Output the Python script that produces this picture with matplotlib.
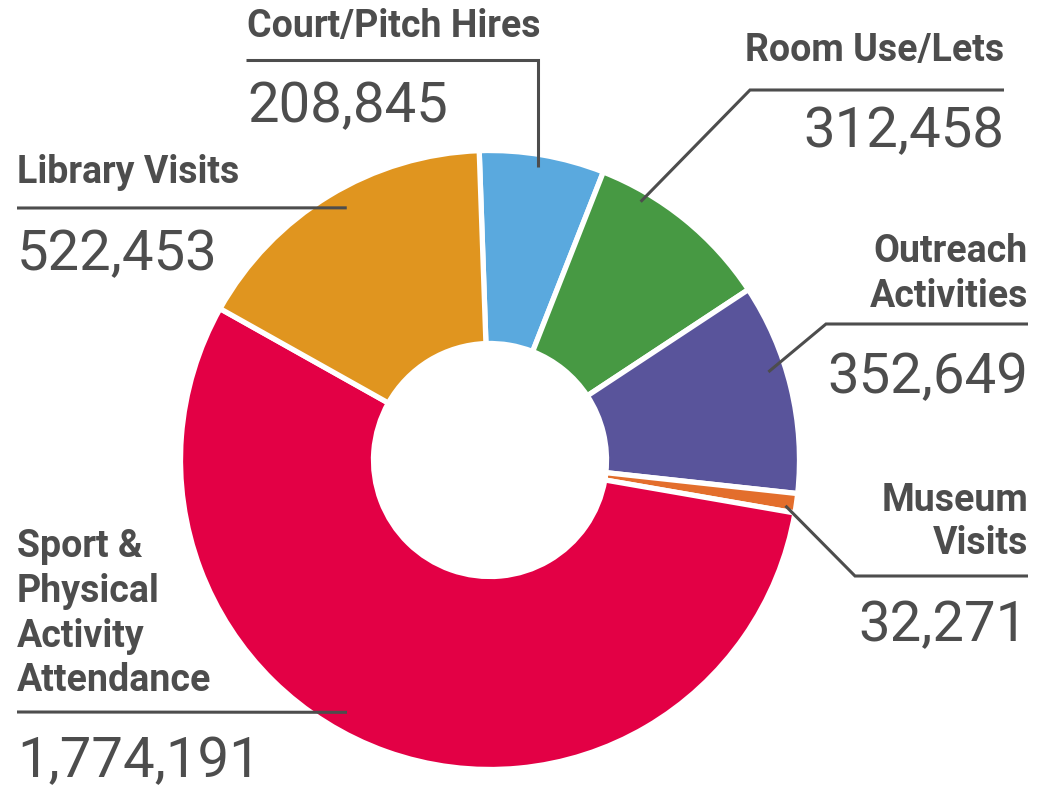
import numpy as np
import matplotlib
matplotlib.use("Agg")
import matplotlib.pyplot as plt

# =========================
# 数据
# =========================
CATEGORIES = ["Court/Pitch Hires", "Room Use/Lets", "Outreach Activities",
              "Museum Visits", "Sport & Physical Activity Attendance", "Library Visits"]
VALUES = [208845, 312458, 352649, 32271, 1774191, 522453]
COLORS = ["#5AA9DE", "#479943", "#59549B", "#E36E2C", "#E30045", "#E0951F"]

# 标签分行（显示用）
LABEL_LINES = [
    ["Court/Pitch Hires"],
    ["Room Use/Lets"],
    ["Outreach", "Activities"],
    ["Museum", "Visits"],
    ["Sport &", "Physical", "Activity", "Attendance"],
    ["Library Visits"],
]

# =========================
# 版式（像素坐标，y 向下）
# =========================
W, H = 1044, 785
CX, CY = 490, 460
R_OUT = 309.5
RING = 193
TEXT_C = "#4D4D4D"

# 每个标签：对齐方式, x, 标签基线, 横线 y, 横线起点 x, 数字基线, 拐点, 锚点在扇区内的比例, 锚点半径
LAYOUT = [
    dict(ha="left", x=247, base=[37], line_y=60, line_x0=246, num_base=122, elbow="vertical", f=0.52, r=297),
    dict(ha="right", x=1004, base=[61], line_y=90, line_x0=1004, num_base=147, elbow=750, f=0.75, r=299),
    dict(ha="right", x=1028, base=[262, 307], line_y=324, line_x0=1028, num_base=393, elbow=826, f=0.60, r=292),
    dict(ha="right", x=1028, base=[511, 554], line_y=576, line_x0=1028, num_base=641, elbow=855, f=0.29, r=299),
    dict(ha="left", x=17, base=[557, 602, 647, 691], line_y=712, line_x0=17, num_base=777, elbow=None, f=0.45, r=290),
    dict(ha="left", x=17, base=[183], line_y=208, line_x0=17, num_base=270, elbow=None, f=0.47, r=290),
]


def P(x, y):
    """像素坐标 -> 数据坐标（y 翻转）"""
    return x, H - y


fig = plt.figure(figsize=(W / 100, H / 100), dpi=100)
ax = fig.add_axes([0, 0, 1, 1])

wedges, _ = ax.pie(
    VALUES, colors=COLORS, startangle=92, counterclock=False,
    center=P(CX, CY), radius=R_OUT,
    wedgeprops=dict(width=RING, edgecolor="white", linewidth=3.8),
)
ax.set_xlim(0, W)
ax.set_ylim(0, H)
ax.set_aspect("equal")
ax.axis("off")

for w, lines, val, lay in zip(wedges, LABEL_LINES, VALUES, LAYOUT):
    # 扇区内锚点
    ang = np.deg2rad(w.theta1 + lay["f"] * (w.theta2 - w.theta1))
    ax_x = CX + lay["r"] * np.cos(ang)
    ax_y = CY - lay["r"] * np.sin(ang)

    # 引线
    if lay["elbow"] == "vertical":
        pts = [(lay["line_x0"], lay["line_y"]), (ax_x, lay["line_y"]), (ax_x, ax_y)]
    elif lay["elbow"] is None:
        pts = [(lay["line_x0"], lay["line_y"]), (ax_x, ax_y)]
    else:
        pts = [(lay["line_x0"], lay["line_y"]), (lay["elbow"], lay["line_y"]), (ax_x, ax_y)]
    xs, ys = zip(*[P(*p) for p in pts])
    ax.plot(xs, ys, color=TEXT_C, lw=2.2, solid_capstyle="butt", solid_joinstyle="miter")

    # 标签
    for txt, b in zip(lines, lay["base"]):
        ax.text(*P(lay["x"], b), txt, ha=lay["ha"], va="baseline",
                family="Roboto", fontweight="bold", fontsize=27, color=TEXT_C)
    ax.text(*P(lay["x"], lay["num_base"]), f"{val:,}", ha=lay["ha"], va="baseline",
            family="Roboto", fontsize=40.5, color=TEXT_C)

fig.savefig("out.png", dpi=100, facecolor="white")
